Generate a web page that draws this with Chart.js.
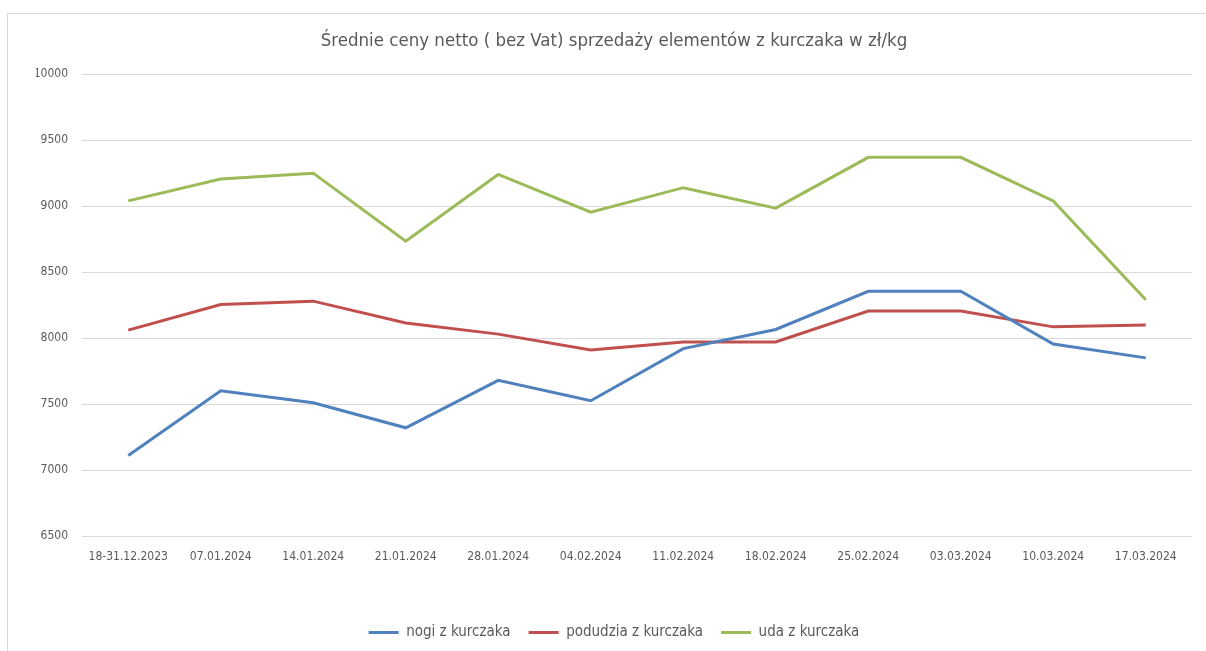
<!DOCTYPE html>
<html>
<head>
<meta charset="utf-8">
<script src="https://cdn.jsdelivr.net/npm/chart.js@4"></script>
<style>
  html, body { margin: 0; padding: 0; background: #fff; overflow: hidden; }
  #frame { position: absolute; left: 7px; top: 13px; width: 1210px; height: 650px; border: 1px solid #d9d9d9; }
  #box { position: absolute; left: 8px; top: 14px; width: 1198px; height: 637px; }
</style>
</head>
<body>
<div id="frame"></div>
<div id="box"><canvas id="myChart"></canvas></div>
<script>
var labels = ["18-31.12.2023", "07.01.2024", "14.01.2024", "21.01.2024", "28.01.2024", "04.02.2024",
  "11.02.2024", "18.02.2024", "25.02.2024", "03.03.2024", "10.03.2024", "17.03.2024"];
var nogi = [7110, 7600, 7510, 7320, 7680, 7525, 7920, 8065, 8355, 8355, 7955, 7850];
var podudzia = [8060, 8255, 8280, 8115, 8030, 7910, 7970, 7970, 8205, 8205, 8085, 8100];
var uda = [9040, 9205, 9250, 8735, 9240, 8955, 9140, 8985, 9370, 9370, 9040, 8290];
var seriesNames = ["nogi z kurczaka", "podudzia z kurczaka", "uda z kurczaka"];
var titleText = "Średnie ceny netto ( bez Vat) sprzedaży elementów z kurczaka w zł/kg";

var fontFam = "'Liberation Sans Narrow', 'Arial Narrow', 'DejaVu Sans Condensed', sans-serif";

function line(name, data, color) {
  return {
    label: name,
    data: data,
    borderColor: color,
    backgroundColor: color,
    borderWidth: 3,
    pointRadius: 0,
    pointHoverRadius: 0,
    tension: 0,
    fill: false
  };
}

var ctx = document.getElementById('myChart').getContext('2d');
var myChart = new Chart(ctx, {
  type: 'line',
  data: {
    labels: labels,
    datasets: [
      line(seriesNames[0], nogi, '#4f81bd'),
      line(seriesNames[1], podudzia, '#c0504d'),
      line(seriesNames[2], uda, '#9bbb59')
    ]
  },
  options: {
    responsive: true,
    maintainAspectRatio: false,
    animation: false,
    layout: { padding: { left: 28, right: 14, top: 10, bottom: 1 } },
    plugins: {
      title: {
        display: true,
        text: titleText,
        color: '#595959',
        font: { family: fontFam, size: 18.5, weight: 'normal' },
        padding: { top: 6, bottom: 22 }
      },
      legend: {
        position: 'bottom',
        labels: {
          color: '#595959',
          font: { family: fontFam, size: 15 },
          usePointStyle: true,
          pointStyle: 'line',
          pointStyleWidth: 30,
          boxHeight: 4,
          padding: 18
        }
      },
      tooltip: { enabled: false }
    },
    scales: {
      x: {
        offset: true,
        grid: { display: false },
        border: { display: false },
        ticks: {
          color: '#595959',
          font: { family: fontFam, size: 12 },
          maxRotation: 0,
          autoSkip: false,
          padding: 6
        },
        afterFit: function(axis) { axis.height = 71; }
      },
      y: {
        min: 6500,
        max: 10000,
        grid: { color: '#d9d9d9', lineWidth: 1, drawTicks: false },
        border: { display: false },
        ticks: {
          stepSize: 500,
          color: '#595959',
          font: { family: fontFam, size: 12 },
          padding: 14,
          callback: function(v) { return String(v); }
        },
        afterFit: function(axis) { axis.width = 46; }
      }
    }
  }
});
</script>
</body>
</html>
